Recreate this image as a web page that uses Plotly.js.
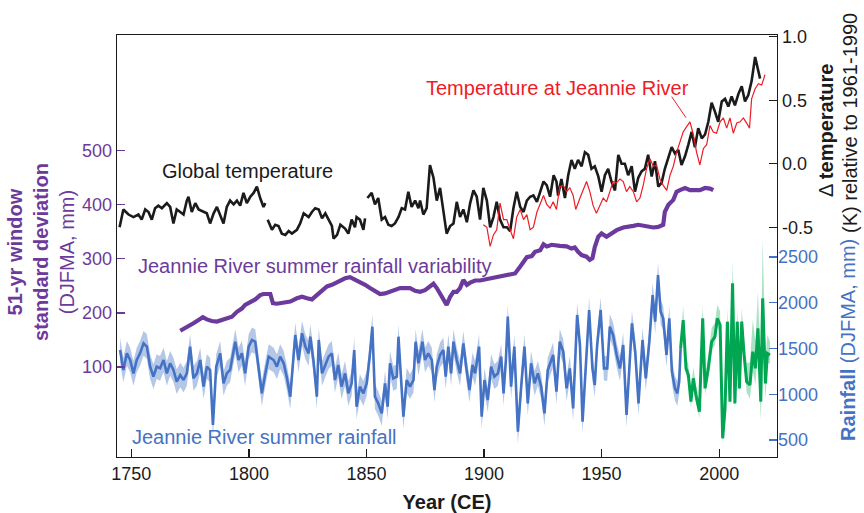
<!DOCTYPE html>
<html>
<head>
<meta charset="utf-8">
<script src="https://cdn.plot.ly/plotly-3.0.1.min.js"></script>
<style>html,body{margin:0;padding:0;background:#fff;}#chart{width:864px;height:513px;}</style>
</head>
<body>
<div id="chart"></div>
<script>
// ---- Data ----
const xTickYears = [1750, 1800, 1850, 1900, 1950, 2000];
const leftTicks = [100, 200, 300, 400, 500];
const tempTicks = [-0.5, 0.0, 0.5, 1.0];
const tempTickText = ["-0.5", "0.0", "0.5", "1.0"];
const rainTicks = [500, 1000, 1500, 2000, 2500];

// Global temperature anomaly (K, rel. 1961-1990); null = gap in record
const globalYears = [1745.0,1746.6,1748.8,1750.9,1753.0,1754.4,1755.9,1757.3,1758.7,1760.1,1761.5,1763.0,1765.1,1766.5,1767.9,1769.3,1770.8,1772.2,1773.6,1774.3,1775.7,1777.2,1778.6,1780.7,1782.1,1783.5,1785.0,1786.4,1787.8,1789.2,1790.6,1792.0,1793.5,1794.9,1796.3,1797.7,1799.1,1800.6,1802.0,1803.4,1804.8,1806.2,1807.0,1807.5,1808.0,1809.8,1811.2,1812.6,1814.0,1815.5,1816.9,1818.3,1820.4,1821.8,1823.3,1825.4,1826.8,1828.2,1829.7,1831.1,1832.5,1833.9,1835.3,1836.0,1837.5,1838.9,1840.9,1842.3,1843.7,1845.1,1845.8,1847.2,1848.7,1849.4,1849.9,1850.4,1852.2,1853.6,1855.0,1856.5,1857.9,1859.3,1860.7,1862.1,1863.6,1865.0,1866.4,1867.8,1869.2,1870.7,1872.1,1872.8,1874.2,1875.6,1877.0,1878.5,1879.9,1881.3,1882.7,1884.1,1885.6,1887.0,1888.4,1889.8,1891.2,1892.7,1894.1,1895.5,1896.9,1898.3,1899.7,1901.2,1902.6,1904.0,1905.4,1906.8,1908.3,1909.7,1911.1,1912.5,1913.9,1915.4,1916.8,1918.2,1919.6,1921.0,1922.5,1923.9,1925.3,1926.7,1928.1,1929.6,1930.8,1931.5,1932.9,1934.4,1935.8,1937.2,1938.6,1940.0,1941.5,1942.9,1944.3,1945.7,1947.1,1948.6,1950.0,1951.4,1952.8,1954.2,1955.7,1957.1,1958.5,1959.9,1961.3,1962.8,1964.2,1965.6,1967.0,1968.4,1969.8,1971.3,1972.7,1974.1,1975.5,1976.9,1978.4,1979.8,1981.2,1982.6,1984.0,1985.5,1986.9,1988.3,1989.7,1991.1,1992.6,1994.0,1995.4,1996.8,1998.2,1999.6,2001.1,2002.5,2003.9,2005.3,2006.7,2008.2,2009.6,2011.0,2012.4,2013.8,2015.3,2016.7,2017.4];
const globalTemp = [-0.50,-0.36,-0.40,-0.42,-0.40,-0.44,-0.36,-0.38,-0.44,-0.35,-0.33,-0.35,-0.31,-0.34,-0.47,-0.36,-0.38,-0.40,-0.29,-0.26,-0.38,-0.31,-0.36,-0.38,-0.39,-0.47,-0.39,-0.34,-0.40,-0.47,-0.34,-0.29,-0.32,-0.29,-0.33,-0.23,-0.31,-0.26,-0.23,-0.18,-0.27,-0.34,-0.31,null,-0.44,-0.52,-0.48,-0.49,-0.55,-0.56,-0.53,-0.55,-0.52,-0.47,-0.39,-0.42,-0.38,-0.35,-0.36,-0.43,-0.39,-0.44,-0.49,-0.59,-0.56,-0.48,-0.51,-0.55,-0.44,-0.50,-0.42,-0.44,-0.52,-0.43,null,-0.27,-0.23,-0.32,-0.27,-0.44,-0.42,-0.48,-0.49,-0.47,-0.42,-0.35,-0.36,-0.22,-0.34,-0.29,-0.35,-0.29,-0.40,-0.35,-0.01,-0.11,-0.29,-0.19,-0.36,-0.55,-0.49,-0.47,-0.30,-0.42,-0.36,-0.46,-0.31,-0.21,-0.26,-0.44,-0.19,-0.29,-0.50,-0.42,-0.30,-0.44,-0.50,-0.50,-0.53,-0.35,-0.22,-0.34,-0.38,-0.29,-0.26,-0.25,-0.30,-0.22,-0.14,-0.17,-0.26,-0.09,-0.14,-0.25,-0.12,-0.27,-0.09,0.03,-0.04,0.03,-0.02,0.09,0.07,-0.04,-0.02,-0.10,-0.22,-0.09,-0.04,-0.14,-0.21,0.07,0.00,0.00,-0.09,-0.02,-0.22,-0.11,-0.06,-0.04,0.07,-0.10,0.02,-0.18,-0.15,-0.04,0.04,0.13,0.08,0.11,-0.01,0.06,0.15,0.25,0.13,0.28,0.20,0.23,0.33,0.48,0.41,0.33,0.49,0.51,0.45,0.53,0.46,0.55,0.61,0.49,0.54,0.65,0.84,0.72,0.67];

// Temperature at Jeannie River (K, rel. 1961-1990)
const localYears = [1899.7,1901.2,1902.6,1904.0,1905.4,1906.8,1908.3,1909.7,1911.1,1912.5,1913.9,1915.4,1916.8,1918.2,1919.6,1921.0,1922.5,1923.9,1925.3,1926.7,1928.1,1929.4,1930.8,1932.2,1933.7,1935.1,1936.5,1937.9,1939.0,1940.8,1942.2,1943.6,1945.0,1946.4,1947.8,1949.3,1950.7,1952.1,1953.5,1954.9,1956.4,1957.8,1959.2,1960.6,1962.0,1963.5,1964.9,1966.3,1967.7,1969.1,1970.6,1972.0,1973.4,1974.8,1976.2,1977.7,1979.1,1980.5,1981.9,1983.3,1984.7,1986.1,1987.6,1989.0,1990.4,1991.8,1993.3,1994.7,1996.1,1997.5,1998.9,2000.4,2001.8,2003.2,2004.6,2006.0,2007.5,2008.9,2010.3,2011.7,2012.9,2013.8,2015.3,2016.7,2018.1,2018.8,2019.5];
const localTemp = [-0.48,-0.50,-0.65,-0.56,-0.52,-0.31,-0.44,-0.44,-0.52,-0.59,-0.42,-0.36,-0.44,-0.40,-0.52,-0.50,-0.38,-0.31,-0.25,-0.32,-0.35,-0.30,-0.36,-0.18,-0.17,-0.22,-0.19,-0.25,-0.36,-0.27,-0.21,-0.14,-0.22,-0.33,-0.39,-0.33,-0.27,-0.30,-0.21,-0.14,-0.15,-0.12,-0.14,-0.22,-0.18,-0.22,-0.30,-0.27,-0.17,-0.04,0.04,-0.02,-0.01,-0.12,-0.17,-0.21,-0.09,-0.02,0.09,0.17,0.25,0.29,0.33,0.23,0.09,-0.01,0.12,0.15,0.30,0.25,0.24,0.33,0.36,0.28,0.36,0.24,0.32,0.33,0.36,0.32,0.28,0.51,0.59,0.63,0.62,0.66,0.70];

// 51-yr window standard deviation of Jeannie River summer rainfall (mm)
const varYears = [1770.8,1772.2,1774.3,1776.4,1778.6,1780.4,1782.1,1784.2,1786.4,1788.5,1790.6,1792.8,1794.9,1797.0,1798.4,1800.6,1802.7,1804.8,1806.2,1809.1,1810.2,1811.9,1814.8,1817.6,1820.4,1822.6,1824.7,1826.8,1828.9,1831.1,1833.2,1835.3,1836.6,1838.7,1840.9,1843.0,1845.1,1847.2,1849.4,1851.5,1853.6,1855.8,1857.9,1860.0,1862.1,1864.3,1866.4,1868.5,1870.7,1872.8,1874.9,1877.0,1878.5,1879.9,1881.3,1882.7,1884.1,1885.6,1887.0,1888.4,1889.8,1891.2,1892.7,1894.1,1896.2,1898.3,1900.5,1903.3,1906.1,1909.0,1911.1,1913.2,1915.4,1916.8,1918.2,1920.3,1921.7,1923.9,1925.3,1926.7,1928.8,1932.2,1935.1,1937.2,1938.6,1940.0,1941.5,1943.6,1945.0,1946.1,1947.1,1948.6,1950.0,1952.1,1954.2,1956.4,1959.2,1961.3,1963.5,1965.6,1967.7,1969.8,1972.0,1974.1,1976.2,1976.9,1978.4,1980.5,1981.9,1983.3,1985.5,1987.6,1989.7,1991.8,1994.0,1996.1,1997.5];
const varStd = [167,170,175,181,187,192,188,185,184,187,189,193,202,208,215,221,225,233,235,235,218,217,219,221,227,230,227,225,233,242,249,252,255,258,264,266,262,258,252,246,241,235,236,239,242,246,246,246,241,239,242,249,254,246,236,224,215,230,239,239,246,261,252,256,260,260,262,264,267,270,270,273,286,295,303,305,313,316,327,323,326,324,323,319,321,313,307,304,298,301,322,341,347,341,347,353,358,359,361,363,361,359,358,359,363,387,400,409,424,427,431,427,427,427,431,430,427];

// Jeannie River summer rainfall reconstruction (DJFMA, mm)
const rainYears = [1745.2,1746.6,1748.1,1749.5,1750.9,1752.3,1753.7,1755.2,1756.6,1758.0,1759.4,1760.8,1762.2,1763.7,1765.1,1766.5,1767.9,1769.3,1770.8,1772.2,1773.6,1775.0,1776.4,1777.9,1779.3,1780.7,1782.1,1783.5,1784.7,1786.1,1787.8,1789.2,1790.6,1792.0,1794.2,1795.6,1797.0,1798.4,1799.9,1801.3,1802.7,1804.1,1805.5,1807.0,1808.4,1810.5,1811.9,1813.3,1814.8,1816.2,1817.6,1819.7,1821.1,1822.6,1824.0,1825.4,1826.1,1827.5,1828.9,1829.7,1831.1,1832.5,1833.9,1835.3,1836.6,1838.0,1839.4,1840.9,1842.3,1843.7,1844.8,1845.8,1847.2,1848.7,1850.1,1851.5,1852.5,1853.6,1855.0,1856.5,1857.9,1859.0,1860.0,1861.4,1862.9,1863.6,1864.7,1865.7,1867.1,1868.5,1870.0,1870.9,1872.1,1873.8,1874.9,1876.3,1877.8,1878.9,1879.9,1881.3,1882.7,1883.7,1884.8,1886.0,1887.0,1888.4,1889.8,1891.2,1892.4,1893.8,1895.1,1896.2,1897.9,1899.0,1900.2,1901.6,1903.0,1904.4,1905.9,1907.3,1908.3,1909.3,1910.1,1911.5,1912.9,1914.4,1915.8,1917.2,1918.6,1920.0,1921.5,1922.9,1924.3,1925.7,1927.1,1929.4,1930.8,1932.2,1933.7,1935.1,1936.5,1937.9,1939.6,1940.8,1941.9,1943.3,1944.7,1946.1,1947.1,1948.1,1949.6,1951.0,1952.4,1953.5,1954.9,1956.4,1957.8,1959.2,1960.6,1961.8,1962.9,1964.3,1965.7,1967.4,1968.8,1970.3,1971.7,1972.8,1974.0,1975.1,1976.2,1977.6,1978.8,1979.9,1981.2,1982.2,1983.0,1983.6];
const rainMm = [1483,1265,1447,1374,1228,1374,1447,1556,1520,1301,1192,1301,1283,1374,1228,1338,1265,1137,1210,1155,1228,1520,1174,1228,1374,1083,1301,1265,664,1301,1447,1119,1228,1265,1574,1374,1447,1228,1520,1593,1574,1283,1010,1228,1411,1374,1301,1411,1338,1174,973,1647,1374,1666,1520,1447,1629,1356,973,1593,1228,1320,1411,1447,1155,1320,1083,1228,1010,1119,1483,864,1083,1010,1119,1447,1738,973,900,791,1119,864,1338,1174,1192,1629,1228,755,1155,1083,1155,1574,1338,1574,1374,1447,1374,1046,1301,1429,1483,1192,1520,1228,1574,1374,1228,1556,1301,1046,1320,1228,1520,755,1155,937,1301,1192,1228,1411,1010,1374,1848,1083,1520,591,1083,1520,900,1338,1119,1228,1083,791,1265,1429,1028,1574,1465,1064,1283,846,1866,1538,700,1356,1921,1283,1101,1538,1921,1283,1283,1738,1647,1429,1283,1538,773,1283,1775,1465,900,1593,1174,1574,2084,1793,2303,1902,1829,1429,1829,1247,1064,1010,1137,1502];
const rainSpread = 135;

// Instrumental rainfall (green), DJFMA mm, and its band half-width
const obsYears = [1983.6,1984.7,1985.9,1986.9,1988.0,1989.0,1990.1,1991.6,1993.0,1994.0,1995.4,1996.8,1998.2,1999.2,2000.4,2001.5,2002.5,2003.5,2004.6,2005.7,2006.7,2007.7,2008.6,2009.6,2010.6,2011.7,2013.1,2014.3,2015.4,2016.5,2017.7,2018.5,2019.7,2020.5,2021.6];
const obsMm = [1502,1811,1283,1210,919,1174,992,809,1829,1064,1283,1574,1629,1829,1757,518,846,1793,919,2212,900,1793,1064,1793,1429,1137,1101,1465,1283,1720,919,2048,1119,1447,1429];
const obsSpread = [100,150,120,120,120,120,120,120,150,120,150,150,150,150,150,100,100,150,120,250,150,150,150,150,150,200,250,350,300,400,350,650,300,200,150];

// ---- Styles ----
const FONT = "Liberation Sans, Arial, Helvetica, sans-serif";
const PURPLE = "#6c3a9c", BLUE = "#4472c4", GREEN = "#00a651", RED = "#ee1c25", BLACK = "#1b1b1b";

const rainLow = rainMm.map(v => v - rainSpread);
const rainHigh = rainMm.map(v => v + rainSpread);
const obsLow = obsMm.map((v, i) => v - obsSpread[i] * 0.6);
const obsHigh = obsMm.map((v, i) => v + obsSpread[i]);

const traces = [
  {x: varYears, y: varStd, yaxis: "y", type: "scatter", mode: "lines",
   line: {color: PURPLE, width: 4.2}, hoverinfo: "skip"},
  {x: globalYears, y: globalTemp, yaxis: "y2", type: "scatter", mode: "lines", connectgaps: false,
   line: {color: BLACK, width: 2.6}, hoverinfo: "skip"},
  {x: localYears, y: localTemp, yaxis: "y2", type: "scatter", mode: "lines",
   line: {color: RED, width: 1.2}, hoverinfo: "skip"},
  {x: rainYears, y: rainLow, yaxis: "y3", type: "scatter", mode: "lines",
   line: {width: 0, color: "rgba(0,0,0,0)"}, hoverinfo: "skip"},
  {x: rainYears, y: rainHigh, yaxis: "y3", type: "scatter", mode: "lines", fill: "tonexty",
   fillcolor: "rgba(68,114,196,0.40)", line: {width: 0, color: "rgba(0,0,0,0)"}, hoverinfo: "skip"},
  {x: rainYears, y: rainMm, yaxis: "y3", type: "scatter", mode: "lines",
   line: {color: BLUE, width: 2.6}, hoverinfo: "skip"},
  {x: obsYears, y: obsLow, yaxis: "y3", type: "scatter", mode: "lines",
   line: {width: 0, color: "rgba(0,0,0,0)"}, hoverinfo: "skip"},
  {x: obsYears, y: obsHigh, yaxis: "y3", type: "scatter", mode: "lines", fill: "tonexty",
   fillcolor: "rgba(0,166,81,0.33)", line: {width: 0, color: "rgba(0,0,0,0)"}, hoverinfo: "skip"},
  {x: obsYears, y: obsMm, yaxis: "y3", type: "scatter", mode: "lines",
   line: {color: GREEN, width: 3}, hoverinfo: "skip"}
];

const layout = {
  width: 864, height: 513,
  margin: {l: 117, r: 87, t: 35, b: 56, pad: 0},
  paper_bgcolor: "#fff", plot_bgcolor: "#fff",
  showlegend: false,
  font: {family: FONT, size: 18, color: BLACK},
  xaxis: {
    range: [1743.9, 2024.6], tickvals: xTickYears, ticks: "inside", ticklen: 8, tickwidth: 1.3,
    tickcolor: BLACK, showline: true, linecolor: BLACK, linewidth: 1.3, mirror: true,
    showgrid: false, zeroline: false, tickfont: {family: FONT, size: 18, color: BLACK},
    title: {text: "<b>Year (CE)</b>", font: {family: FONT, size: 20, color: BLACK}, standoff: 12}
  },
  yaxis: {
    range: [-66.4, 713.9], tickvals: leftTicks, ticks: "inside", ticklen: 8, tickwidth: 1.3,
    tickcolor: PURPLE, showline: true, linecolor: BLACK, linewidth: 1.3,
    showgrid: false, zeroline: false, tickfont: {family: FONT, size: 18, color: PURPLE}
  },
  yaxis2: {
    range: [-2.308, 1.013], overlaying: "y", side: "right", anchor: "x",
    tickvals: tempTicks, ticktext: tempTickText, ticks: "inside", ticklen: 8, tickwidth: 1.3,
    tickcolor: BLACK, showline: true, linecolor: BLACK, linewidth: 1.3,
    showgrid: false, zeroline: false, tickfont: {family: FONT, size: 18, color: BLACK}
  },
  yaxis3: {
    range: [314, 4926], overlaying: "y", side: "right", anchor: "x",
    tickvals: rainTicks, ticks: "inside", ticklen: 8, tickwidth: 1.3,
    tickcolor: BLUE, showline: false,
    showgrid: false, zeroline: false, tickfont: {family: FONT, size: 18, color: BLUE}
  },
  shapes: [
    {type: "line", xref: "x", yref: "y2", x0: 1979.8, y0: 0.528, x1: 1985.9, y1: 0.362,
     line: {color: RED, width: 1}}
  ],
  annotations: [
    {xref: "paper", yref: "paper", x: 0.8697, y: 0.8744, xanchor: "right", yanchor: "middle",
     text: "Temperature at Jeannie River", showarrow: false, font: {family: FONT, size: 20, color: RED}},
    {xref: "paper", yref: "paper", x: 0.197, y: 0.6777, xanchor: "center", yanchor: "middle",
     text: "Global temperature", showarrow: false, font: {family: FONT, size: 20, color: BLACK}},
    {xref: "paper", yref: "paper", x: 0.0288, y: 0.4526, xanchor: "left", yanchor: "middle",
     text: "Jeannie River summer rainfall variability", showarrow: false, font: {family: FONT, size: 20, color: PURPLE}},
    {xref: "paper", yref: "paper", x: 0.0197, y: 0.0474, xanchor: "left", yanchor: "middle",
     text: "Jeannie River summer rainfall", showarrow: false, font: {family: FONT, size: 20, color: BLUE}},
    {xref: "paper", yref: "paper", x: -0.1152, y: 0.4858, xanchor: "center", yanchor: "middle", textangle: -90,
     text: "<b>51-yr window</b><br><b>standard deviation</b><br>(DJFMA, mm)", showarrow: false,
     font: {family: FONT, size: 20, color: PURPLE}},
    {xref: "paper", yref: "paper", x: 1.0742, y: 0.7749, xanchor: "center", yanchor: "middle", textangle: -90,
     text: "Δ <b>temperature</b>", showarrow: false, font: {family: FONT, size: 20, color: BLACK}},
    {xref: "paper", yref: "paper", x: 1.1106, y: 0.7915, xanchor: "center", yanchor: "middle", textangle: -90,
     text: "(K) relative to 1961-1990", showarrow: false, font: {family: FONT, size: 20, color: BLACK}},
    {xref: "paper", yref: "paper", x: 1.1076, y: 0.2773, xanchor: "center", yanchor: "middle", textangle: -90,
     text: "<b>Rainfall</b> (DJFMA, mm)", showarrow: false, font: {family: FONT, size: 20, color: BLUE}}
  ]
};

Plotly.newPlot("chart", traces, layout, {displayModeBar: false, staticPlot: true});
</script>
</body>
</html>
